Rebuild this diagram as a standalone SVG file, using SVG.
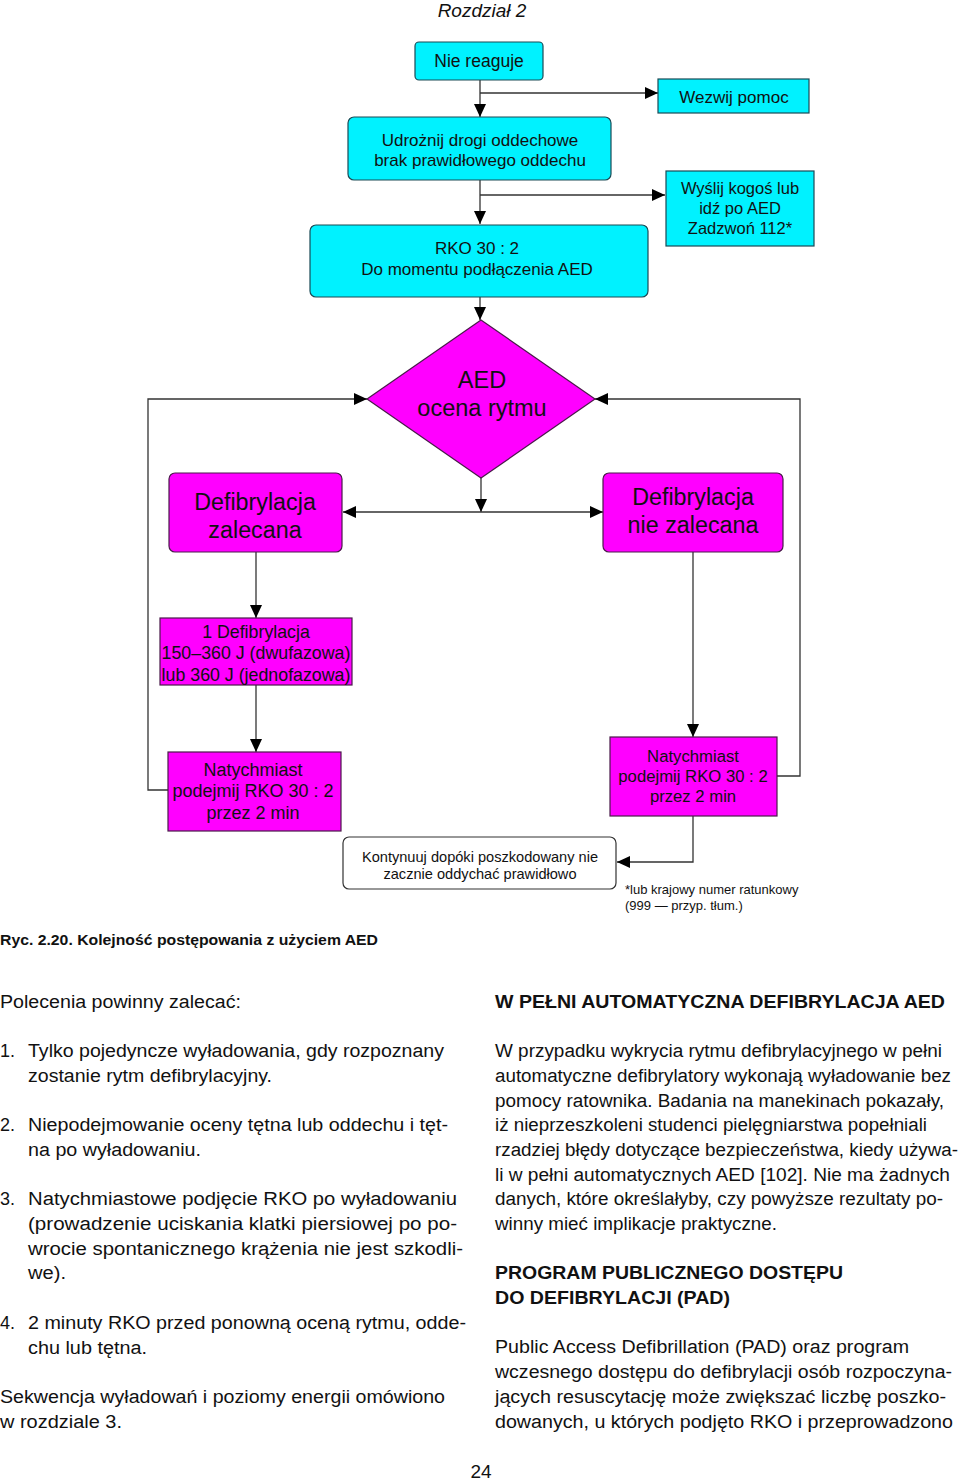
<svg xmlns="http://www.w3.org/2000/svg" width="960" height="1481" viewBox="0 0 960 1481">
<style>
.cy{fill:#00f2ff;stroke:#1a4a55;stroke-width:1.2}
.mg{fill:#ff00ff;stroke:#4a1a4a;stroke-width:1.2}
.wh{fill:#fff;stroke:#333;stroke-width:1.2}
.t{font-family:"Liberation Sans",Arial,sans-serif;fill:#111;text-anchor:middle}
.c{stroke:#333;stroke-width:1.3;fill:none}
.b{font-family:"Liberation Sans",Arial,sans-serif;font-size:18px;fill:#111}
.bb{font-family:"Liberation Sans",Arial,sans-serif;font-size:18px;font-weight:bold;fill:#111}
</style>
<defs>
<marker id="ah" markerUnits="userSpaceOnUse" markerWidth="13" markerHeight="12" refX="13" refY="6" orient="auto-start-reverse" viewBox="0 0 13 12">
<path d="M0,0 L13,6 L0,12 z" fill="#000"/>
</marker>
</defs>
<rect width="960" height="1481" fill="#fff"/>
<text x="482" y="17" class="t" style="font-size:19px;font-style:italic">Rozdział 2</text>

<g id="connectors">
<path class="c" d="M480,80 V117" marker-end="url(#ah)"/>
<path class="c" d="M480,93 H658" marker-end="url(#ah)"/>
<path class="c" d="M480,180 V224" marker-end="url(#ah)"/>
<path class="c" d="M480,195 H665" marker-end="url(#ah)"/>
<path class="c" d="M480,297 V320" marker-end="url(#ah)"/>
<path class="c" d="M481,478 V512" marker-end="url(#ah)"/>
<path class="c" d="M343,512 H603" marker-start="url(#ah)" marker-end="url(#ah)"/>
<path class="c" d="M168,790 H148 V399 H367" marker-end="url(#ah)"/>
<path class="c" d="M777,776 H800 V399 H595" marker-end="url(#ah)"/>
<path class="c" d="M256,552 V618" marker-end="url(#ah)"/>
<path class="c" d="M256,685 V752" marker-end="url(#ah)"/>
<path class="c" d="M693,552 V737" marker-end="url(#ah)"/>
<path class="c" d="M693,816 V862 H617" marker-end="url(#ah)"/>
</g>

<g id="n-nie-reaguje">
<rect class="cy" x="415" y="42" width="128" height="38" rx="4"/>
<text class="t" x="479" y="67" style="font-size:17.5px">Nie reaguje</text>
</g>
<g id="n-wezwij">
<rect class="cy" x="658" y="79" width="151" height="34"/>
<text class="t" x="734" y="103" style="font-size:17px">Wezwij pomoc</text>
</g>
<g id="n-udroznij">
<rect class="cy" x="348" y="117" width="263" height="63" rx="6"/>
<text class="t" x="480" y="146" style="font-size:17px">Udrożnij drogi oddechowe</text>
<text class="t" x="480" y="166" style="font-size:17px">brak prawidłowego oddechu</text>
</g>
<g id="n-wyslij">
<rect class="cy" x="666" y="171" width="148" height="75"/>
<text class="t" x="740" y="194" style="font-size:16.5px">Wyślij kogoś lub</text>
<text class="t" x="740" y="214" style="font-size:16.5px">idź po AED</text>
<text class="t" x="740" y="234" style="font-size:16.5px">Zadzwoń 112*</text>
</g>
<g id="n-rko">
<rect class="cy" x="310" y="225" width="338" height="72" rx="6"/>
<text class="t" x="477" y="254" style="font-size:17px">RKO 30 : 2</text>
<text class="t" x="477" y="275" style="font-size:17px">Do momentu podłączenia AED</text>
</g>
<g id="n-aed">
<polygon class="mg" points="481,320 595,399 481,478 367,399"/>
<text class="t" x="482" y="388" style="font-size:23.5px">AED</text>
<text class="t" x="482" y="416" style="font-size:23.5px">ocena rytmu</text>
</g>
<g id="n-zalecana">
<rect class="mg" x="169" y="473" width="173" height="79" rx="6"/>
<text class="t" x="255" y="510" style="font-size:23.3px">Defibrylacja</text>
<text class="t" x="255" y="538" style="font-size:23.3px">zalecana</text>
</g>
<g id="n-niezalecana">
<rect class="mg" x="603" y="473" width="180" height="79" rx="6"/>
<text class="t" x="693" y="505" style="font-size:23.3px">Defibrylacja</text>
<text class="t" x="693" y="533" style="font-size:23.3px">nie zalecana</text>
</g>
<g id="n-1defib">
<rect class="mg" x="160" y="618" width="192" height="67"/>
<text class="t" x="256" y="638" style="font-size:17.8px">1 Defibrylacja</text>
<text class="t" x="256" y="659" style="font-size:17.8px">150–360 J (dwufazowa)</text>
<text class="t" x="256" y="681" style="font-size:17.8px">lub 360 J (jednofazowa)</text>
</g>
<g id="n-natych-l">
<rect class="mg" x="168" y="752" width="173" height="79"/>
<text class="t" x="253" y="776" style="font-size:18px">Natychmiast</text>
<text class="t" x="253" y="797" style="font-size:18px">podejmij RKO 30 : 2</text>
<text class="t" x="253" y="819" style="font-size:18px">przez 2 min</text>
</g>
<g id="n-natych-r">
<rect class="mg" x="610" y="737" width="167" height="79"/>
<text class="t" x="693" y="762" style="font-size:16.7px">Natychmiast</text>
<text class="t" x="693" y="782" style="font-size:16.7px">podejmij RKO 30 : 2</text>
<text class="t" x="693" y="802" style="font-size:16.7px">przez 2 min</text>
</g>
<g id="n-kontynuuj">
<rect class="wh" x="343" y="837" width="273" height="52" rx="6"/>
<text class="t" x="480" y="862" style="font-size:14.6px">Kontynuuj dopóki poszkodowany nie</text>
<text class="t" x="480" y="879" style="font-size:14.6px">zacznie oddychać prawidłowo</text>
</g>
<g id="footnote">
<text x="625" y="894" style="font-family:'Liberation Sans',Arial,sans-serif;font-size:13px;fill:#111">*lub krajowy numer ratunkowy</text>
<text x="625" y="910" style="font-family:'Liberation Sans',Arial,sans-serif;font-size:13px;fill:#111">(999 — przyp. tłum.)</text>
</g>

<text x="0" y="945" textLength="378" lengthAdjust="spacingAndGlyphs" style="font-family:'Liberation Sans',Arial,sans-serif;font-size:14.5px;font-weight:bold;fill:#111">Ryc. 2.20. Kolejność postępowania z użyciem AED</text>

<g id="left-col">
<text class="b" x="0" y="1008" textLength="241" lengthAdjust="spacingAndGlyphs">Polecenia powinny zalecać:</text>
<text class="b" x="0" y="1057">1.</text>
<text class="b" x="28" y="1057" textLength="416" lengthAdjust="spacingAndGlyphs">Tylko pojedyncze wyładowania, gdy rozpoznany</text>
<text class="b" x="28" y="1082" textLength="244" lengthAdjust="spacingAndGlyphs">zostanie rytm defibrylacyjny.</text>
<text class="b" x="0" y="1131">2.</text>
<text class="b" x="28" y="1131" textLength="420" lengthAdjust="spacingAndGlyphs">Niepodejmowanie oceny tętna lub oddechu i tęt-</text>
<text class="b" x="28" y="1156" textLength="173" lengthAdjust="spacingAndGlyphs">na po wyładowaniu.</text>
<text class="b" x="0" y="1205">3.</text>
<text class="b" x="28" y="1205" textLength="429" lengthAdjust="spacingAndGlyphs">Natychmiastowe podjęcie RKO po wyładowaniu</text>
<text class="b" x="28" y="1230" textLength="429" lengthAdjust="spacingAndGlyphs">(prowadzenie uciskania klatki piersiowej po po-</text>
<text class="b" x="28" y="1255" textLength="435" lengthAdjust="spacingAndGlyphs">wrocie spontanicznego krążenia nie jest szkodli-</text>
<text class="b" x="28" y="1279" textLength="38" lengthAdjust="spacingAndGlyphs">we).</text>
<text class="b" x="0" y="1329">4.</text>
<text class="b" x="28" y="1329" textLength="438" lengthAdjust="spacingAndGlyphs">2 minuty RKO przed ponowną oceną rytmu, odde-</text>
<text class="b" x="28" y="1354" textLength="119" lengthAdjust="spacingAndGlyphs">chu lub tętna.</text>
<text class="b" x="0" y="1403" textLength="445" lengthAdjust="spacingAndGlyphs">Sekwencja wyładowań i poziomy energii omówiono</text>
<text class="b" x="0" y="1428" textLength="122" lengthAdjust="spacingAndGlyphs">w rozdziale 3.</text>
</g>

<g id="right-col">
<text class="bb" x="495" y="1008" textLength="450" lengthAdjust="spacingAndGlyphs">W PEŁNI AUTOMATYCZNA DEFIBRYLACJA AED</text>
<text class="b" x="495" y="1057" textLength="447" lengthAdjust="spacingAndGlyphs">W przypadku wykrycia rytmu defibrylacyjnego w pełni</text>
<text class="b" x="495" y="1082" textLength="456" lengthAdjust="spacingAndGlyphs">automatyczne defibrylatory wykonają wyładowanie bez</text>
<text class="b" x="495" y="1107" textLength="449" lengthAdjust="spacingAndGlyphs">pomocy ratownika. Badania na manekinach pokazały,</text>
<text class="b" x="495" y="1131" textLength="432" lengthAdjust="spacingAndGlyphs">iż nieprzeszkoleni studenci pielęgniarstwa popełniali</text>
<text class="b" x="495" y="1156" textLength="463" lengthAdjust="spacingAndGlyphs">rzadziej błędy dotyczące bezpieczeństwa, kiedy używa-</text>
<text class="b" x="495" y="1181" textLength="455" lengthAdjust="spacingAndGlyphs">li w pełni automatycznych AED [102]. Nie ma żadnych</text>
<text class="b" x="495" y="1205" textLength="448" lengthAdjust="spacingAndGlyphs">danych, które określałyby, czy powyższe rezultaty po-</text>
<text class="b" x="495" y="1230" textLength="282" lengthAdjust="spacingAndGlyphs">winny mieć implikacje praktyczne.</text>
<text class="bb" x="495" y="1279" textLength="348" lengthAdjust="spacingAndGlyphs">PROGRAM PUBLICZNEGO DOSTĘPU</text>
<text class="bb" x="495" y="1304" textLength="235" lengthAdjust="spacingAndGlyphs">DO DEFIBRYLACJI (PAD)</text>
<text class="b" x="495" y="1353" textLength="414" lengthAdjust="spacingAndGlyphs">Public Access Defibrillation (PAD) oraz program</text>
<text class="b" x="495" y="1378" textLength="457" lengthAdjust="spacingAndGlyphs">wczesnego dostępu do defibrylacji osób rozpoczyna-</text>
<text class="b" x="495" y="1403" textLength="451" lengthAdjust="spacingAndGlyphs">jących resuscytację może zwiększać liczbę poszko-</text>
<text class="b" x="495" y="1428" textLength="458" lengthAdjust="spacingAndGlyphs">dowanych, u których podjęto RKO i przeprowadzono</text>
</g>
<text class="b" x="481" y="1478" style="text-anchor:middle;font-size:19px">24</text>
</svg>
